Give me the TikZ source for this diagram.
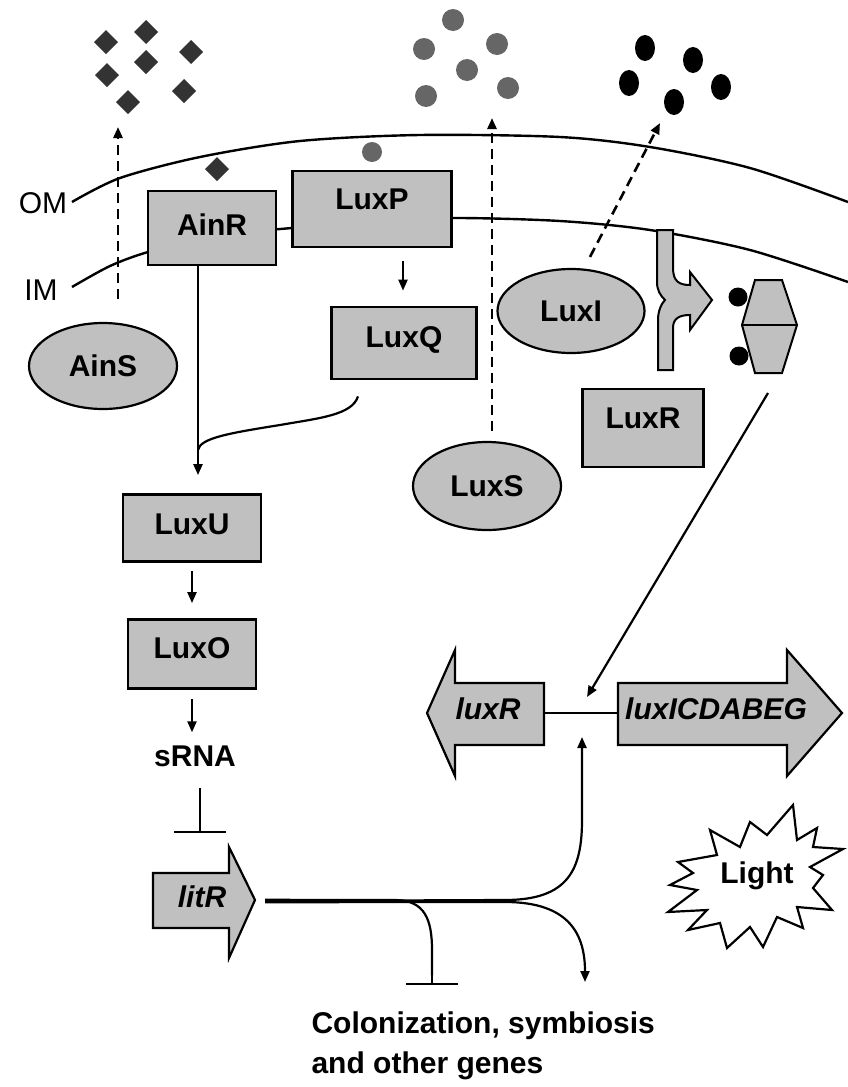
\documentclass[tikz,border=0pt]{standalone}
\usepackage{fontspec}
\setmainfont{Liberation Sans}
\usetikzlibrary{arrows.meta,shapes.geometric}
\definecolor{boxgray}{RGB}{192,192,192}
\definecolor{darkdia}{RGB}{51,51,51}
\definecolor{midgray}{RGB}{102,102,102}
\begin{document}
\begin{tikzpicture}[x=1pt,y=-1pt,
  lbl/.style={font=\fontsize{30}{34}\selectfont\bfseries},
  box/.style={draw, line width=2.8pt, fill=boxgray, inner sep=0pt, lbl},
  oval/.style={ellipse, draw, line width=2.2pt, fill=boxgray, inner sep=0pt, lbl},
  genearrow/.style={draw, line width=2.2pt, fill=boxgray, line join=miter},
  arr/.style={line width=2.2pt, -{Triangle[length=11pt,width=9pt]}},
  dasharr/.style={line width=2.6pt, dash pattern=on 10pt off 6pt, -{Triangle[length=11pt,width=9pt]}},
  inh/.style={line width=2.2pt, -{Bar[width=52pt,line width=2.5pt]}},
  memb/.style={line width=2.4pt},
  plain/.style={line width=2.2pt},
  itl/.style={font=\fontsize{30}{34}\selectfont\bfseries\itshape, inner sep=0pt}
]
\useasboundingbox (0,0) rectangle (848,1087);
\fill[white] (0,0) rectangle (848,1087);

% membranes
\draw[memb] plot[smooth] coordinates {(72,202) (120,178) (200,157) (300,141) (420,135) (560,137) (650,147) (750,168) (848,202)};
\draw[memb] plot[smooth] coordinates {(72,287) (110,266) (148,252) (212,236) (292,228) (372,222) (452,218) (560,221) (650,230) (750,250) (848,282)};
\node[font=\fontsize{30}{34}\selectfont, inner sep=0pt] (OM) at (43,203) {OM};
\node[font=\fontsize{30}{34}\selectfont, inner sep=0pt] (IM) at (41,290) {IM};

% signal molecules
\foreach \x/\y in {106/42, 146/32, 191/52, 107/75, 146/62, 184/91, 128/102, 217/169}
  \fill[darkdia] (\x,\y) +(0,-12) -- +(12,0) -- +(0,12) -- +(-12,0) -- cycle;
\foreach \x/\y in {453/20, 424/49, 497/44, 467/70, 426/96, 508/88}
  \fill[midgray] (\x,\y) circle[radius=11];
\fill[midgray] (372,152) circle[radius=10];
\foreach \x/\y in {645/48, 693/60, 629/83, 721/87, 674/102}
  \fill[black] (\x,\y) ellipse[x radius=10, y radius=13];

% proteins
\node[box, minimum width=128pt, minimum height=74pt, text depth=6pt] (AinR) at (212,228) {AinR};
\node[box, minimum width=159pt, minimum height=76pt, text depth=20pt] (LuxP) at (372,209) {LuxP};
\node[box, minimum width=145pt, minimum height=72pt, text depth=12pt] (LuxQ) at (404,343) {LuxQ};
\node[box, minimum width=121pt, minimum height=78pt, text depth=20pt] (LuxR) at (643,428) {LuxR};
\node[box, minimum width=138pt, minimum height=67pt, text depth=8pt] (LuxU) at (192,528) {LuxU};
\node[box, minimum width=128pt, minimum height=69pt, text depth=12pt] (LuxO) at (192,654) {LuxO};
\node[oval, minimum width=148pt, minimum height=86pt] (AinS) at (103,366) {AinS};
\node[oval, minimum width=147pt, minimum height=84pt] (LuxI) at (571,311) {LuxI};
\node[oval, minimum width=148pt, minimum height=88pt] (LuxS) at (487,486) {LuxS};
\node[lbl, inner sep=0pt] (sRNA) at (195,756) {sRNA};

% exported signals (dashed)
\coordinate (ainsout) at (118,127);
\coordinate (luxsout) at (492,118);
\coordinate (luxiout) at (660,123);
\draw[dasharr] ([xshift=15pt,yshift=23pt]AinS.north) -- (ainsout);
\draw[dasharr] ([xshift=5pt,yshift=10pt]LuxS.north) -- (luxsout);
\draw[dasharr] ([xshift=19pt,yshift=11pt]LuxI.north) -- (luxiout);

% transporter-like arrow
\draw[genearrow, line width=2pt] (657,230) -- (673,230) -- (673,268) .. controls (673,282) and (680,285) .. (690,285) -- (690,272) -- (712,300) -- (690,330) -- (690,315) .. controls (680,315) and (673,318) .. (673,328) -- (673,370) -- (658,370) -- (658,320) .. controls (658,310) and (662,303) .. (665,300) .. controls (660,295) and (657,290) .. (657,282) -- cycle;

% LuxR-AHL complex
\draw[genearrow, line width=2pt] (755,280) -- (782,280) -- (797,325) -- (782,373) -- (755,373) -- (742,325) -- cycle;
\draw[line width=2pt] (742,325) -- (797,325);
\fill[black] (738,297) circle[radius=9.5];
\fill[black] (739,356) circle[radius=9.5];
\coordinate (hexout) at (768,393);

% phosphorelay
\draw[arr, shorten <=13pt, shorten >=15pt] ([xshift=31pt]LuxP.south) -- ([xshift=-1pt]LuxQ.north);
\coordinate (merge) at (198,450);
\draw[arr, shorten >=18pt] ([xshift=-14pt]AinR.south) -- ([xshift=6pt]LuxU.north);
\draw[plain] ([xshift=-46pt,yshift=-16pt]LuxQ.south) .. controls (352,415) and (320,418) .. (280,425) .. controls (230,433) and (200,438) .. (merge);
\draw[arr, shorten <=8pt, shorten >=15pt] (LuxU.south) -- (LuxO.north);
\draw[arr, shorten <=9pt, shorten >=13pt] (LuxO.south) -- ([xshift=-3pt]sRNA.north);
\coordinate (sbar) at (200,833);
\draw[inh, shorten <=21pt] ([xshift=5pt]sRNA.south) -- (sbar);

% genes
\draw[genearrow] (153,873) -- (229,873) -- (229,847) -- (255,900) -- (229,958) -- (229,928) -- (153,928) -- cycle;
\node[itl] (litR) at (202,897) {litR};
\draw[genearrow] (544,683) -- (455,683) -- (455,650) -- (427,713) -- (455,776) -- (455,745) -- (544,745) -- cycle;
\node[itl] (luxR) at (488,709) {luxR};
\draw[genearrow] (618,683) -- (787,683) -- (787,650) -- (842,713) -- (787,776) -- (787,745) -- (618,745) -- cycle;
\node[itl] (luxI) at (716,709) {luxICDABEG};
\coordinate (luxRend) at (544,713);
\coordinate (luxIstart) at (618,713);
\draw[plain] (luxRend) -- (luxIstart);
\coordinate (promA) at (587,697);
\coordinate (promB) at (582,737);
\draw[arr] (hexout) -- (promA);

% litR outputs
\coordinate (litRtip) at (265,901);
\coordinate (colbar) at (432,985);
\coordinate (colarr) at (585,982);
\draw[line width=2.2pt] ([yshift=1.2pt]litRtip) -- (395,900) .. controls (425,900) and (432,920) .. (432,950) -- (432,975);
\draw[inh] (432,960) -- (colbar);
\draw[arr] ([yshift=-1.2pt]litRtip) -- (505,902) .. controls (570,902) and (585,935) .. (colarr);
\draw[arr] (litRtip) -- (505,900) .. controls (568,900) and (582,870) .. (582,820) -- (promB);

% Light
\draw[line width=2.2pt, line join=miter] (710,830) -- (740,847) -- (750,822) -- (767,835) -- (793,805) -- (797,840) -- (817,828) -- (813,847) -- (843,849) -- (810,867) -- (823,875) -- (813,888) -- (832,910) -- (797,907) -- (803,928) -- (777,917) -- (763,947) -- (750,927) -- (727,948) -- (720,923) -- (688,930) -- (707,910) -- (668,912) -- (697,890) -- (670,885) -- (693,873) -- (678,862) -- (717,855) -- cycle;
\node[lbl] (Light) at (757,876) {Light};

% outputs text
\node[anchor=west, align=left, font=\fontsize{30}{40}\selectfont\bfseries] (genes) at (308,1046) {Colonization, symbiosis\\and other genes};
\end{tikzpicture}
\end{document}
